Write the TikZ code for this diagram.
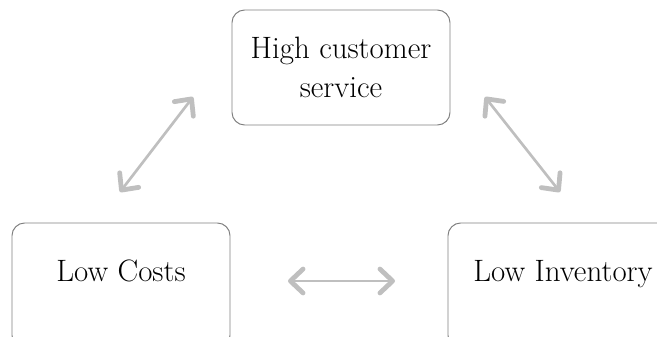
\documentclass[tikz,border=0pt]{standalone}
\usetikzlibrary{arrows.meta}
\definecolor{boxgray}{HTML}{808080}
\definecolor{arrowgray}{HTML}{BFBFBF}
\tikzset{
  goal/.style={draw=boxgray, line width=0.7pt, rounded corners=9pt,
    minimum width=218*0.025cm, minimum height=115*0.025cm,
    align=center, font=\fontsize{22}{28}\selectfont},
  cutgoal/.style={goal, minimum height=125*0.025cm, text depth=30*0.025cm},
  tradeoff/.style={draw=arrowgray, line width=1.9pt,
    {Straight Barb[round,length=9pt,width=17pt,line width=3.4pt]}-{Straight Barb[round,length=9pt,width=17pt,line width=3.4pt]}}
}
\begin{document}
\begin{tikzpicture}[x=0.025cm,y=-0.025cm]
      \useasboundingbox (0,0) rectangle (657,336);
      \clip (0,0) rectangle (657,336);
      \draw
        (341,67.5) node[goal] (service){High customer\\service}
        (121,285.5) node[cutgoal] (costs){Low Costs}
        (563,285.5) node[cutgoal,minimum width=230*0.025cm] (inventory){Low Inventory};
      \coordinate (a1) at (120,192);
      \coordinate (a2) at (193,97);
      \coordinate (b1) at (485,97);
      \coordinate (b2) at (560,192);
      \coordinate (c1) at (288,281);
      \coordinate (c2) at (395,281);
      \begin{scope}[tradeoff]
        \draw (a1) to (a2);
        \draw (b1) to (b2);
        \draw (c1) to (c2);
      \end{scope}
    \end{tikzpicture}
\end{document}
